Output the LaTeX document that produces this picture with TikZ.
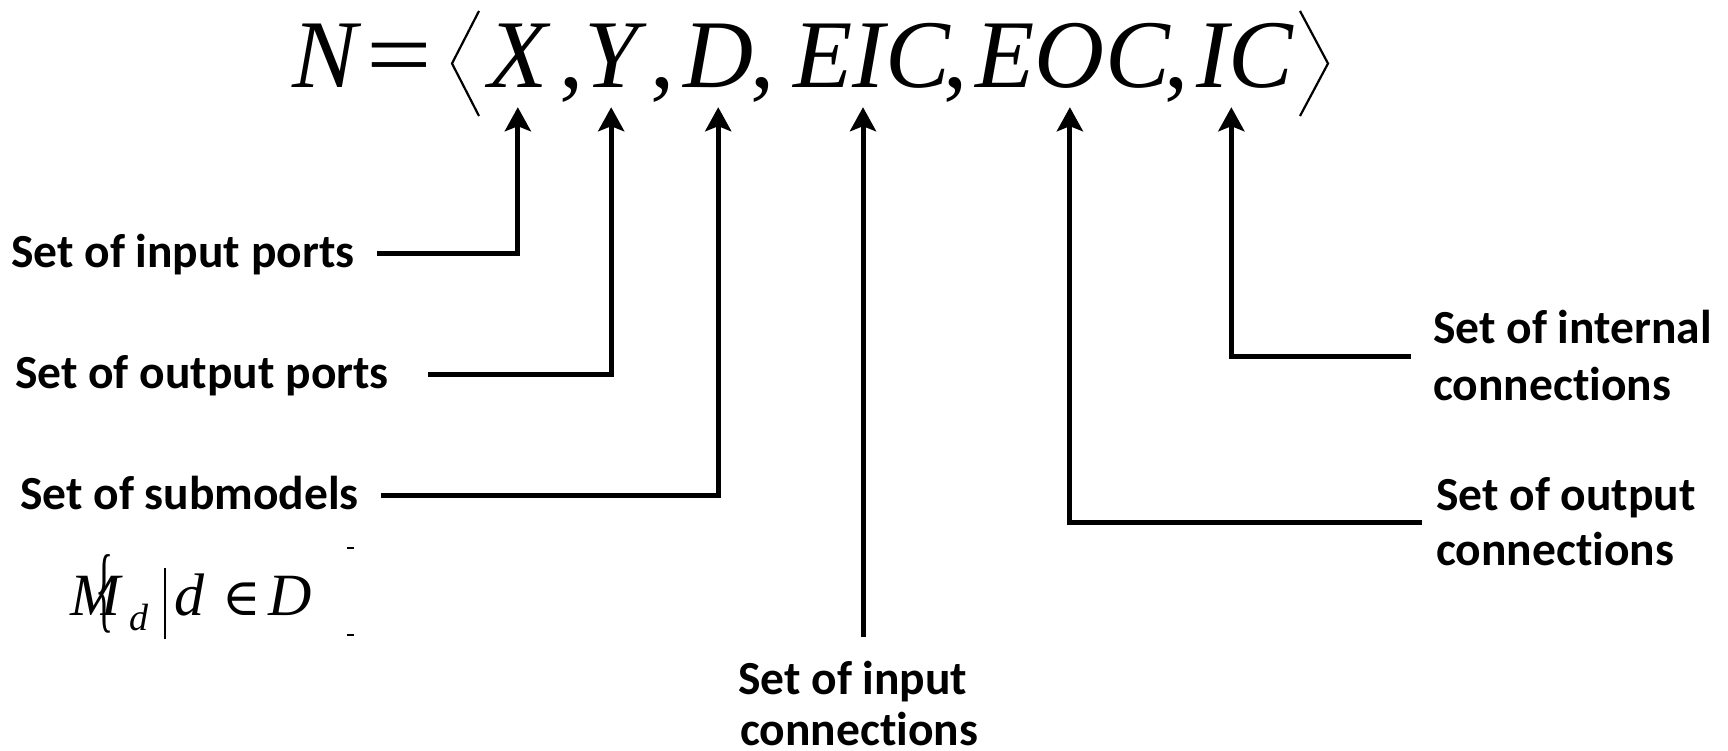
\documentclass[tikz,border=0pt]{standalone}
\usepackage{fontspec}
\setmainfont{Liberation Serif}
\newfontfamily\lblfont[Ligatures=NoCommon]{Carlito}
\newfontfamily\symfont{DejaVu Serif}
\usetikzlibrary{arrows.meta}
\begin{document}
\begin{tikzpicture}[x=1pt,y=-1pt,
 sym/.style={inner sep=0pt, anchor=base west, font=\fontsize{97}{100}\selectfont\itshape, text depth=19pt},
 punct/.style={inner sep=0pt, anchor=base west, font=\fontsize{97}{100}\selectfont},
 lbl/.style={inner sep=0pt, anchor=base west, font=\fontsize{47.5}{57}\selectfont\lblfont\bfseries},
 mth/.style={inner sep=0pt, anchor=base west, font=\fontsize{60}{60}\selectfont\itshape},
 arr/.style={line width=5pt, -{Stealth[length=24pt,width=26pt,inset=5pt]}},
 brk/.style={line width=2.2pt, line join=miter},
 glyphline/.style={line width=1.8pt},
]
\useasboundingbox (0,0) rectangle (1728,751);
% formula
\node[sym] (N) at (292,88) {N};
\node[punct, xscale=1.2] (eq) at (366,88) {=};
\draw[brk] (479,11) -- (452,63.5) -- (479,116);
\node[sym] (X) at (488,88) {X};
\node[punct] (c1) at (559,88) {,};
\node[sym] (Y) at (584,88) {Y};
\node[punct] (c2) at (650,88) {,};
\node[sym] (D) at (683,88) {D};
\node[punct] (c3) at (750,88) {,};
\node[sym] (E1) at (793,88) {E};
\node[sym] (I1) at (E1.base east) {I};
\node[sym] (C1) at (I1.base east) {C};
\node[punct] (c4) at (943,88) {,};
\node[sym] (E2) at (975,88) {E};
\node[sym] (O2) at (E2.base east) {O};
\node[sym] (C2) at (O2.base east) {C};
\node[punct] (c5) at (1164,88) {,};
\node[sym] (I3) at (1196,88) {I};
\node[sym] (C3) at (I3.base east) {C};
\draw[brk] (1300,11) -- (1328,63.5) -- (1300,116);
% labels
\node[lbl] (l1) at (11,268) {Set of input ports};
\node[lbl] (l2) at (15,388) {Set of output ports};
\node[lbl] (l3) at (20,509) {Set of submodels};
\node[lbl] (r1a) at (1433,343) {Set of internal};
\node[lbl] (r1b) at (1433,400) {connections};
\node[lbl] (r2a) at (1436,510) {Set of output};
\node[lbl] (r2b) at (1436,565) {connections};
\node[lbl] (b1a) at (738,694) {Set of input};
\node[lbl] (b1b) at (740,745) {connections};
% connectors
\draw[arr] ([xshift=22pt,yshift=14pt]l1.base east) -| (X.south);
\draw[arr] ([xshift=39pt,yshift=14pt]l2.base east) -| (Y.south);
\draw[arr] ([xshift=22pt,yshift=14pt]l3.base east) -| (D.south);
\coordinate (eicEnd) at (863,637);
\draw[arr] (eicEnd) -- (eicEnd |- I1.south);
\draw[arr] ([xshift=-14pt,yshift=-12pt]r2a.base west) -| (O2.south);
\draw[arr] ([xshift=-22pt,yshift=-13pt]r1a.base west) -| ([xshift=19pt]I3.south);
% submodel set
\node[mth] (M) at (70,615) {M};
\node[inner sep=0pt, anchor=base west, font=\fontsize{95}{95}\selectfont, xscale=0.4] (br) at (95,620) {\{};
\node[inner sep=0pt, anchor=base west, font=\fontsize{38}{38}\selectfont\itshape] (sd) at (129,630) {d};
\draw[glyphline] (165,568) -- (165,639);
\node[mth] (dd) at (174,615) {d};
\node[inner sep=0pt, anchor=base west, font=\fontsize{52}{52}\selectfont\symfont] (in) at (222,615) {∈};
\node[mth] (DD) at (268,615) {D};
\draw[glyphline] (347,548) -- (354,548);
\draw[glyphline] (347,635) -- (354,635);
\end{tikzpicture}
\end{document}
